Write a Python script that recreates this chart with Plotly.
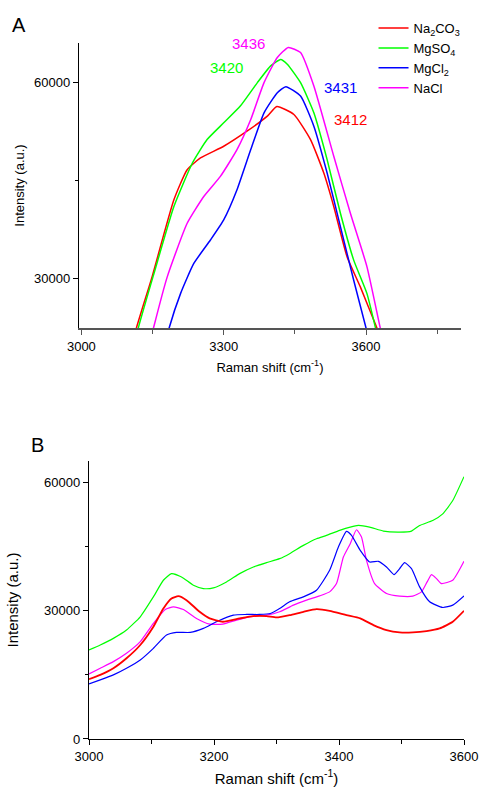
import plotly.graph_objects as go
from plotly.subplots import make_subplots

# panel A: normalized O-H stretching band
a_na2co3_x = [3105, 3116, 3149, 3195, 3223, 3251, 3300, 3349, 3392, 3412, 3448, 3483, 3511, 3532, 3560, 3588, 3623, 3635]
a_na2co3_y = [19000, 22500, 30306, 42061, 46661, 48450, 50239, 52538, 54838, 56300, 55094, 51261, 46150, 41040, 33373, 28773, 22500, 20500]

a_mgso4_x = [3110, 3120, 3153, 3195, 3234, 3265, 3300, 3335, 3371, 3399, 3420, 3434, 3462, 3490, 3518, 3546, 3574, 3602, 3620, 3630]
a_mgso4_y = [19000, 22500, 30818, 41040, 47684, 51261, 53816, 56371, 59949, 62504, 63500, 62760, 59949, 55349, 48194, 40017, 32862, 27751, 22500, 19500]

a_mgcl2_x = [3175, 3185, 3209, 3237, 3272, 3300, 3328, 3357, 3385, 3413, 3431, 3462, 3490, 3518, 3546, 3574, 3600, 3610]
a_mgcl2_y = [19500, 22500, 27751, 32351, 35929, 38995, 43595, 49727, 55349, 58416, 59336, 57905, 53305, 46150, 37973, 29796, 22500, 19500]

a_nacl_x = [3142, 3152, 3181, 3223, 3258, 3293, 3328, 3357, 3385, 3413, 3436, 3462, 3490, 3532, 3567, 3602, 3630, 3640]
a_nacl_y = [19500, 22500, 30306, 38484, 42572, 45639, 49727, 54327, 59949, 63782, 65315, 64548, 59438, 48705, 40017, 31840, 22500, 19500]

# panel B: raw spectra
b_mgso4_x = [3000, 3018, 3039, 3060, 3082, 3103, 3119, 3132, 3148, 3167, 3183, 3199, 3220, 3241, 3263, 3284, 3305, 3321, 3343, 3364, 3380, 3401, 3418, 3431, 3449, 3471, 3497, 3516, 3529, 3550, 3566, 3582, 3600]
b_mgso4_y = [20813, 21978, 23531, 25472, 28578, 33238, 37121, 38674, 37898, 35956, 35180, 35336, 36733, 38674, 40228, 41237, 42169, 43334, 45275, 46829, 47605, 48770, 49547, 49935, 49547, 48615, 48382, 48615, 49935, 51100, 52653, 55759, 61351]

b_na2co3_x = [3000, 3018, 3039, 3060, 3082, 3103, 3119, 3132, 3143, 3156, 3177, 3193, 3214, 3241, 3263, 3284, 3300, 3321, 3343, 3364, 3385, 3412, 3434, 3455, 3476, 3497, 3518, 3540, 3561, 3582, 3600]
b_na2co3_y = [13980, 14990, 16543, 18872, 21978, 26249, 30520, 32850, 33394, 32462, 29744, 28191, 27415, 28191, 28735, 28735, 28424, 28968, 29744, 30365, 29977, 28968, 28191, 26638, 25473, 24929, 24929, 25240, 25861, 27415, 29977]

b_nacl_x = [3000, 3018, 3039, 3060, 3082, 3103, 3122, 3135, 3151, 3172, 3193, 3214, 3236, 3263, 3284, 3305, 3327, 3348, 3369, 3385, 3396, 3407, 3418, 3428, 3436, 3444, 3457, 3476, 3497, 3518, 3532, 3541, 3548, 3556, 3564, 3582, 3600]
b_nacl_y = [15222, 16543, 18096, 20037, 22755, 27027, 30287, 30909, 30287, 28191, 26871, 26871, 27803, 28735, 28968, 29744, 31297, 32462, 33472, 34404, 36345, 42558, 45664, 48925, 47217, 41781, 36345, 34015, 33394, 33394, 34404, 36733, 38441, 37509, 36345, 37121, 41548]

b_mgcl2_x = [3000, 3018, 3039, 3060, 3082, 3103, 3124, 3140, 3162, 3183, 3204, 3231, 3252, 3273, 3290, 3305, 3321, 3343, 3364, 3385, 3399, 3412, 3420, 3434, 3449, 3463, 3476, 3488, 3497, 3505, 3516, 3529, 3545, 3566, 3582, 3600]
b_mgcl2_y = [12893, 13825, 14990, 16543, 18484, 21202, 24308, 24929, 24929, 25861, 27415, 28968, 29123, 29123, 29356, 30520, 32074, 33239, 34792, 39451, 44888, 48537, 47605, 44111, 41393, 41548, 40228, 38441, 39839, 41237, 39839, 35568, 32074, 30753, 31297, 33472]

names = ['Na<sub>2</sub>CO<sub>3</sub>', 'MgSO<sub>4</sub>', 'MgCl<sub>2</sub>', 'NaCl']
colors = ['#FF0000', '#00FF00', '#0000FF', '#FF00FF']

peak_labels = ['3412', '3420', '3431', '3436']
peak_label_x = [3567, 3306, 3546, 3353]
peak_label_y = [54327, 62249, 59182, 66184]

fig = make_subplots(rows=2, cols=1)

a_data = [(a_na2co3_x, a_na2co3_y), (a_mgso4_x, a_mgso4_y), (a_mgcl2_x, a_mgcl2_y), (a_nacl_x, a_nacl_y)]
for (x, y), name, c in zip(a_data, names, colors):
    fig.add_trace(go.Scatter(x=x, y=y, name=name, mode='lines',
                             line=dict(color=c, width=1.5, shape='spline', smoothing=0.5)), row=1, col=1)

# draw order in B: green, magenta, blue, red on top
b_data = [(b_mgso4_x, b_mgso4_y, 1, 1.2), (b_nacl_x, b_nacl_y, 3, 1.2),
          (b_mgcl2_x, b_mgcl2_y, 2, 1.2), (b_na2co3_x, b_na2co3_y, 0, 1.8)]
for x, y, i, w in b_data:
    fig.add_trace(go.Scatter(x=x, y=y, name=names[i], mode='lines', showlegend=False,
                             line=dict(color=colors[i], width=w, shape='spline', smoothing=0.5)), row=2, col=1)

# peak labels; 3436 sits above the top of the axis, so it goes in paper coords
for txt, x, y, c in zip(peak_labels, peak_label_x, peak_label_y, colors):
    if y > 66000:
        fig.add_annotation(x=x, y=1.0, xref='x', yref='paper', text=txt, showarrow=False,
                           yanchor='middle', font=dict(size=15, color=c))
    else:
        fig.add_annotation(x=x, y=y, xref='x', yref='y', text=txt, showarrow=False,
                           yanchor='middle', font=dict(size=15, color=c))

fig.add_annotation(x=-0.179, y=1.026, xref='paper', yref='paper', text='A', showarrow=False,
                   xanchor='left', yanchor='middle', font=dict(size=20, color='black'))
fig.add_annotation(x=-0.13, y=0.4224, xref='paper', yref='paper', text='B', showarrow=False,
                   xanchor='left', yanchor='middle', font=dict(size=20, color='black'))

tick_font = dict(family='Arial, Liberation Sans', size=13, color='black')

fig.update_xaxes(row=1, col=1, domain=[0, 0.992], range=[2995, 3800],
                 tick0=3000, dtick=300, ticks='outside', ticklen=5, tickcolor='#555',
                 minor=dict(ticks='outside', dtick=150, ticklen=4, tickcolor='#555'),
                 showline=True, linecolor='#555', linewidth=2, showgrid=False, zeroline=False,
                 tickfont=tick_font, tickformat='d', automargin=False,
                 title=dict(text='Raman shift (cm<sup>-1</sup>)', font=dict(size=13, color='black'), standoff=10))
fig.update_yaxes(row=1, col=1, domain=[0.5905, 1.0], range=[22500, 66000],
                 tick0=0, dtick=30000, ticks='outside', ticklen=5, tickcolor='black',
                 minor=dict(ticks='outside', dtick=15000, ticklen=3, tickcolor='black'),
                 showline=True, linecolor='black', linewidth=1.3, showgrid=False, zeroline=False,
                 tickfont=tick_font, tickformat='d', automargin=False,
                 title=dict(text='Intensity (a.u.)', font=dict(size=13, color='black'), standoff=6))

fig.update_xaxes(row=2, col=1, domain=[0.026, 1.0], range=[3000, 3600],
                 tick0=3000, dtick=200, ticks='outside', ticklen=5, tickcolor='black',
                 minor=dict(ticks='outside', dtick=100, ticklen=4, tickcolor='black'),
                 showline=True, linecolor='black', linewidth=1.3, showgrid=False, zeroline=False,
                 tickfont=tick_font, tickformat='d', automargin=False,
                 title=dict(text='Raman shift (cm<sup>-1</sup>)', font=dict(size=15, color='black'), standoff=10))
fig.update_yaxes(row=2, col=1, domain=[0, 0.3994], range=[0, 65000],
                 tick0=0, dtick=30000, ticks='outside', ticklen=5, tickcolor='black',
                 minor=dict(ticks='outside', dtick=15000, ticklen=3, tickcolor='black'),
                 showline=True, linecolor='black', linewidth=1.3, showgrid=False, zeroline=False,
                 tickfont=tick_font, tickformat='d', automargin=False,
                 title=dict(text='Intensity (a.u.)', font=dict(size=15, color='black'), standoff=21))

fig.update_layout(
    template='none',
    width=481, height=789,
    margin=dict(l=79, r=17, t=43, b=50, autoexpand=False),
    plot_bgcolor='white', paper_bgcolor='white',
    font=dict(family='Arial, Liberation Sans', color='black'),
    legend=dict(x=0.765, y=1.043, xanchor='left', yanchor='top', bgcolor='rgba(0,0,0,0)',
                font=dict(size=13), tracegroupgap=0),
)

fig.write_html("out.html", config={'displayModeBar': False},
               post_script="document.body.style.margin='0px';")
